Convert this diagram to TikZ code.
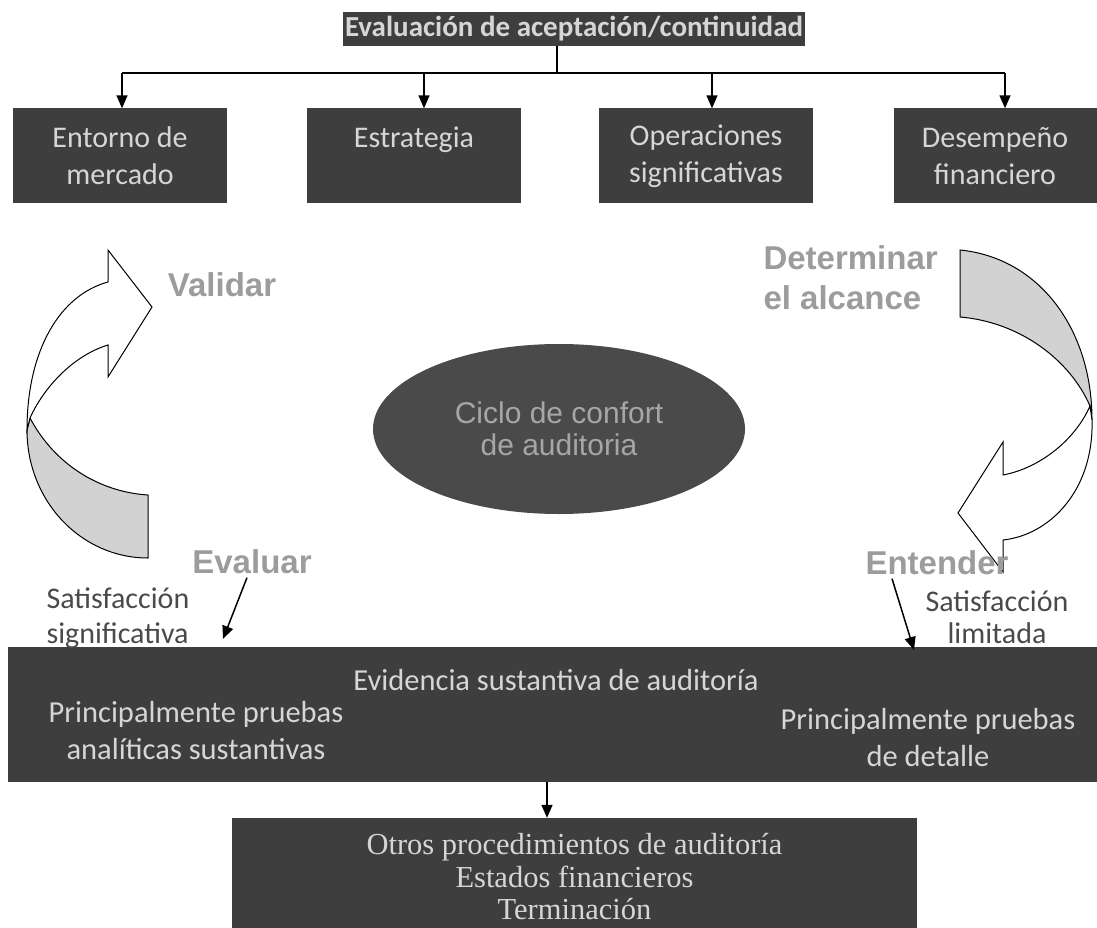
\documentclass[tikz,border=0pt]{standalone}
\usepackage{fontspec}
\setmainfont{Carlito}
\newfontfamily\arialfam{Liberation Sans}
\newfontfamily\timesfam{Liberation Serif}
\usetikzlibrary{arrows.meta,shapes.geometric}
\definecolor{boxgray}{HTML}{3E3E3E}
\definecolor{boxtext}{HTML}{D6D6D6}
\definecolor{ovalgray}{HTML}{4A4A4A}
\definecolor{ovaltext}{HTML}{A6A6A6}
\definecolor{labgray}{HTML}{9C9C9C}
\definecolor{shadegray}{HTML}{D2D2D2}
\definecolor{notegray}{HTML}{4A4A4A}
\begin{document}
\begin{tikzpicture}[x=1pt,y=-1pt,
darkbox/.style={fill=boxgray,text=boxtext,inner sep=0pt,align=center,font=\fontsize{30}{37}\selectfont},
topbox/.style={darkbox,minimum width=214pt,minimum height=95pt},
intext/.style={text=boxtext,align=center,font=\fontsize{30.5}{37}\selectfont},
phase/.style={text=labgray,font=\arialfam\bfseries\fontsize{33}{40}\selectfont,align=left},
note/.style={text=notegray,font=\fontsize{30}{35}\selectfont},
link/.style={line width=1.5pt,-{Triangle[length=13pt,width=11pt]}},
curvearrow/.style={line width=1pt,draw=black}]
\useasboundingbox(0,0)rectangle(1097,928);
\node(acep)at(574,29)[darkbox,font=\bfseries\fontsize{29}{32}\selectfont,minimum width=462pt,minimum height=34pt]{Evaluación de aceptación/continuidad};
\node(ent)at(120,156)[topbox]{Entorno de\\mercado};
\node(est)at(414,156)[topbox]{Estrategia\\~};
\node(ope)at(706,156)[topbox]{Operaciones\\significativas};
\node(des)at(995,156)[topbox,minimum width=203pt]{Desempeño\\financiero};
\coordinate(split)at(557,73);
\draw[line width=1.5pt](acep.south-|split)--(split);
\draw[line width=1.5pt]([xshift=2pt]ent.north|-split)--([xshift=10pt]des.north|-split);
\foreach\n/\dx in{ent/2,est/10,ope/6,des/10}
\draw[link]([xshift=\dx pt]\n.north|-split)--([xshift=\dx pt]\n.north);
\filldraw[curvearrow,fill=shadegray](30,418)..controls(55,465)and(100,492)..(148,495)--(148,558)..controls(81,558)and(27,501)..(27,430)--cycle;
\filldraw[curvearrow,fill=white](27,430)..controls(27,350)and(60,295)..(108,282)--(108,250)--(152,307)--(108,377)--(108,345)..controls(75,355)and(45,385)..(30,418)--cycle;
\filldraw[curvearrow,fill=shadegray](960,250)..controls(1040,258)and(1092,330)..(1092,420)--(1090,406)..controls(1070,360)and(1020,322)..(960,317)--cycle;
\filldraw[curvearrow,fill=white](1090,406)--(1092,420)..controls(1094,490)and(1050,535)..(1003,540)--(1003,572)--(958,513)--(1003,442)--(1003,475)..controls(1040,468)and(1075,440)..(1090,406)--cycle;
\node(ciclo)at(559,429)[ellipse,fill=ovalgray,text=ovaltext,minimum width=372pt,minimum height=170pt,inner sep=0pt,align=center,font=\arialfam\fontsize{30}{32}\selectfont]{Ciclo de confort\\de auditoria};
\node(evid)at(554,714.5)[darkbox,minimum width=1092pt,minimum height=135pt]{};
\node(validar)at(222,285)[phase]{Validar};
\node(determinar)at(760,278)[phase,anchor=west]{Determinar\\el alcance};
\node(evaluar)at(252,562)[phase]{Evaluar};
\node(entender)at(937,563)[phase]{Entender};
\node(satsig)at(43,618)[note,anchor=west,align=left]{Satisfacción\\significativa};
\node(satlim)at(997,617)[note,align=center,font=\fontsize{30}{32}\selectfont]{Satisfacción\\limitada};
\node(sust)at(556,680)[intext]{Evidencia sustantiva de auditoría};
\node(analit)at(196,731)[intext]{Principalmente pruebas\\analíticas sustantivas};
\node(detalle)at(928,738)[intext]{Principalmente pruebas\\de detalle};
\node(otros)at(574.5,881.5)[darkbox,minimum width=685pt,minimum height=127pt]{};
\node(otrostxt)at(574.5,877)[text=boxtext,align=center,font=\timesfam\fontsize{30.5}{32.5}\selectfont]{Otros procedimientos de auditoría\\Estados financieros\\Terminación};
\coordinate(evtip)at(223,639);
\coordinate(entip)at(914,650);
\draw[link]([xshift=-5pt]evaluar.south)--(evtip);
\draw[link]([xshift=-45pt]entender.south)--(entip);
\draw[link]([xshift=-7pt]evid.south)--([xshift=-7pt]evid.south|-otros.north);
\end{tikzpicture}
\end{document}
